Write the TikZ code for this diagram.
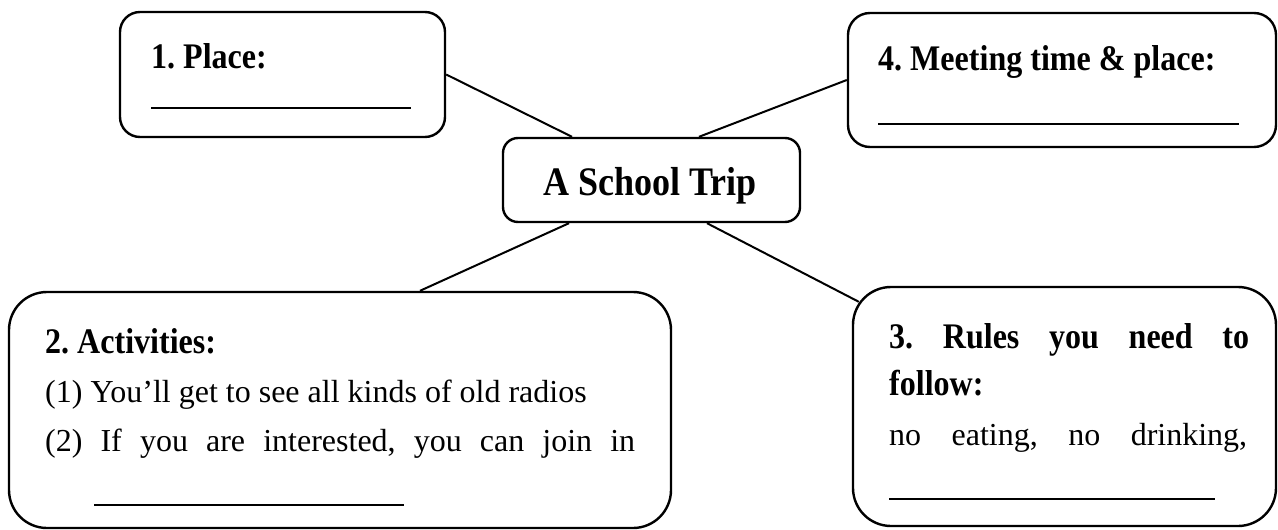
\documentclass[tikz,border=0pt]{standalone}
\usepackage{fontspec}
\setmainfont{Liberation Serif}[BoldFeatures={FakeStretch=0.89}]
\usetikzlibrary{calc}
\frenchspacing
\begin{document}
\frenchspacing
\begin{tikzpicture}[x=1pt,y=-1pt,
  box/.style={draw, line width=2.4pt, rounded corners=#1, inner sep=0pt},
  txt/.style={anchor=base west, inner sep=0pt, font=\fontsize{32}{38}\selectfont},
  btxt/.style={txt, font=\fontsize{36}{40}\selectfont\bfseries},
  ttxt/.style={anchor=base, inner sep=0pt, font=\fontsize{40.5}{44}\selectfont\bfseries},
  link/.style={line width=2pt},
  blank/.style={line width=2pt}]
\useasboundingbox (0,0) rectangle (1278,530);
% boxes
\node[box=20pt, minimum width=325pt, minimum height=125pt] (b1) at (282.5,74.5) {};
\node[box=15pt, minimum width=297pt, minimum height=84pt] (c) at (651.5,180) {};
\node[box=22pt, minimum width=428pt, minimum height=134pt] (b4) at (1062,80) {};
\node[box=38pt, minimum width=662pt, minimum height=236pt] (b2) at (340,410) {};
\node[box=38pt, minimum width=423pt, minimum height=239pt] (b3) at (1064.5,406.5) {};
% texts
\node[ttxt] (ct) at (650,195) {A School Trip};
\node[btxt] (t1) at (151,68) {1. Place:};
\node[btxt] (t4) at (878,70) {4. Meeting time \& place:};
\node[btxt] (t2) at (45,353) {2. Activities:};
\node[txt] (t2a) at (45,402) {(1) You’ll get to see all kinds of old radios};
\node[txt] (t2b) at (45,451) {\makebox[590pt][s]{(2) If you are interested, you can join in}};
\node[btxt] (t3) at (889,348) {\makebox[360pt][s]{3. Rules you need to}};
\node[btxt] (t3a) at (889,395) {follow:};
\node[txt] (t3b) at (889,445) {\makebox[358pt][s]{no eating, no drinking,}};
% blanks
\coordinate (u1a) at (151,108); \coordinate (u1b) at (411,108);
\coordinate (u4a) at (878,124); \coordinate (u4b) at (1239,124);
\coordinate (u2a) at (94,505);  \coordinate (u2b) at (404,505);
\coordinate (u3a) at (889,499); \coordinate (u3b) at (1215,499);
\draw[blank] (u1a) -- (u1b);
\draw[blank] (u4a) -- (u4b);
\draw[blank] (u2a) -- (u2b);
\draw[blank] (u3a) -- (u3b);
% connectors
\draw[link] (b1.east) -- ([xshift=-79.5pt]c.north);
\draw[link] ([xshift=47.5pt]c.north) -- (b4.west);
\draw[link] ([xshift=-82.5pt]c.south) -- ([xshift=80pt]b2.north);
\draw[link] ([xshift=55.5pt]c.south) -- ($(b3.north west)+(7,16)$);
\end{tikzpicture}
\end{document}
